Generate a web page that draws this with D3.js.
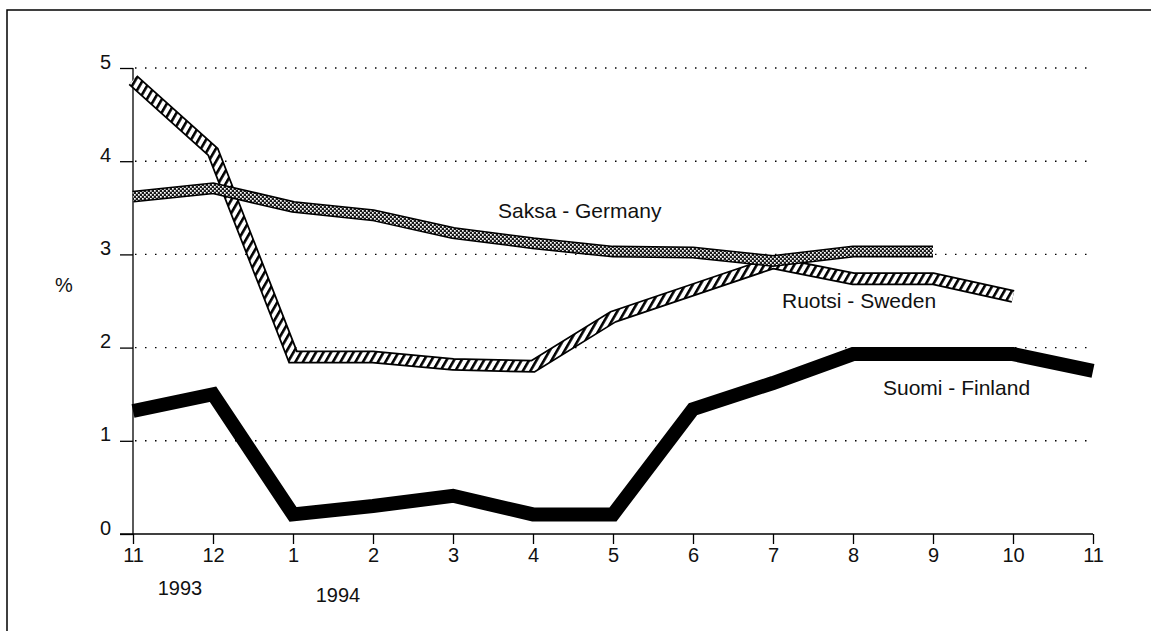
<!DOCTYPE html>
<html>
<head>
<meta charset="utf-8">
<script src="https://cdn.jsdelivr.net/npm/d3@7"></script>
<style>
  body { margin: 0; background: #fff; }
  text { font-family: "Liberation Sans", Arial, sans-serif; fill: #111; }
</style>
</head>
<body>
<svg id="chart"></svg>
<script>
// months from 11/1993 to 11/1994
const months = ['11', '12', '1', '2', '3', '4', '5', '6', '7', '8', '9', '10', '11'];
const yTicks = [0, 1, 2, 3, 4, 5];
const finland = [1.32, 1.5, 0.21, 0.3, 0.41, 0.21, 0.21, 1.34, 1.62, 1.93, 1.93, 1.93, 1.75];
const sweden = [4.87, 4.1, 1.9, 1.9, 1.82, 1.8, 2.33, 2.62, 2.91, 2.74, 2.74, 2.55];
const germany = [3.62, 3.71, 3.51, 3.42, 3.23, 3.12, 3.03, 3.02, 2.93, 3.03, 3.03];

const width = 1151, height = 631;
const svg = d3.select('#chart').attr('width', width).attr('height', height);

const x = d3.scaleLinear().domain([0, months.length - 1]).range([133, 1093]);
const y = d3.scaleLinear().domain([0, 5]).range([534, 68]);

// patterns
const defs = svg.append('defs');
const hatch = defs.append('pattern')
  .attr('id', 'hatch')
  .attr('patternUnits', 'userSpaceOnUse')
  .attr('width', 6.5).attr('height', 6.5)
  .attr('patternTransform', 'rotate(30)');
hatch.append('rect').attr('width', 6.5).attr('height', 6.5).attr('fill', '#fff');
hatch.append('rect').attr('x', 0).attr('width', 2.6).attr('height', 6.5).attr('fill', '#000');

const cross = defs.append('pattern')
  .attr('id', 'cross')
  .attr('patternUnits', 'userSpaceOnUse')
  .attr('width', 4).attr('height', 4);
cross.append('rect').attr('width', 4).attr('height', 4).attr('fill', '#1a1a1a');
cross.append('rect').attr('width', 1.7).attr('height', 1.7).attr('fill', '#fff');
cross.append('rect').attr('x', 2).attr('y', 2).attr('width', 1.7).attr('height', 1.7).attr('fill', '#fff');

// frame
svg.append('path')
  .attr('d', 'M7,631 V10 H1151')
  .attr('fill', 'none').attr('stroke', '#000').attr('stroke-width', 1.5);

// dotted gridlines
svg.append('g')
  .selectAll('line')
  .data(yTicks.filter(d => d > 0))
  .join('line')
  .attr('x1', x(0) + 2).attr('x2', 1090)
  .attr('y1', d => y(d)).attr('y2', d => y(d))
  .attr('stroke', '#000')
  .attr('stroke-width', 1.4)
  .attr('stroke-dasharray', '1.5,8.5');

// y axis
const yAxis = d3.axisLeft(y).tickValues(yTicks).tickSize(13).tickPadding(0).tickFormat(d3.format('d'));
const gy = svg.append('g').attr('transform', `translate(${x(0)},0)`).call(yAxis);
gy.attr('font-size', 20).attr('font-family', '"Liberation Sans", Arial, sans-serif');
gy.select('.domain').attr('d', `M0,${y(5)}V${y(0)}`).attr('stroke-width', 1.3);
gy.selectAll('.tick line').attr('stroke-width', 1.3);
gy.selectAll('.tick text')
  .attr('x', -22).attr('dy', 0).attr('y', 0)
  .attr('fill', '#111');

// x axis
const xAxis = d3.axisBottom(x).tickValues(d3.range(months.length)).tickSize(10).tickPadding(4)
  .tickFormat(i => months[i]);
const gx = svg.append('g').attr('transform', `translate(0,${y(0)})`).call(xAxis);
gx.attr('font-size', 20).attr('font-family', '"Liberation Sans", Arial, sans-serif');
gx.select('.domain').attr('d', `M120,0H${x(12)}`).attr('stroke-width', 1.3);
gx.selectAll('.tick line').attr('stroke-width', 1.3);
gx.selectAll('.tick text').attr('fill', '#111');

svg.append('text').attr('x', 180).attr('y', 595).attr('text-anchor', 'middle')
  .style('font-size', '20px').text('1993');
svg.append('text').attr('x', 338).attr('y', 602).attr('text-anchor', 'middle')
  .style('font-size', '20px').text('1994');
svg.append('text').attr('x', 64).attr('y', 292).attr('text-anchor', 'middle')
  .style('font-size', '20px').text('%');

const line = d3.line().x((d, i) => x(i)).y(d => y(d));

function band(values, outer, inner, fill) {
  const g = svg.append('g');
  g.append('path').attr('d', line(values)).attr('fill', 'none')
    .attr('stroke', '#000').attr('stroke-width', outer).attr('stroke-linejoin', 'miter');
  g.append('path').attr('d', line(values)).attr('fill', 'none')
    .attr('stroke', fill).attr('stroke-width', inner).attr('stroke-linejoin', 'miter');
}

// Finland: solid black
svg.append('path').attr('d', line(finland)).attr('fill', 'none')
  .attr('stroke', '#000').attr('stroke-width', 14).attr('stroke-linejoin', 'miter');
band(sweden, 13, 9.5, 'url(#hatch)');
band(germany, 12, 9, 'url(#cross)');

const labels = [
  { text: 'Saksa - Germany', x: 498, y: 218 },
  { text: 'Ruotsi - Sweden', x: 782, y: 308 },
  { text: 'Suomi - Finland', x: 883, y: 395 }
];
svg.append('g').selectAll('text').data(labels).join('text')
  .attr('x', d => d.x).attr('y', d => d.y)
  .style('font-size', '21px')
  .text(d => d.text);
</script>
</body>
</html>
